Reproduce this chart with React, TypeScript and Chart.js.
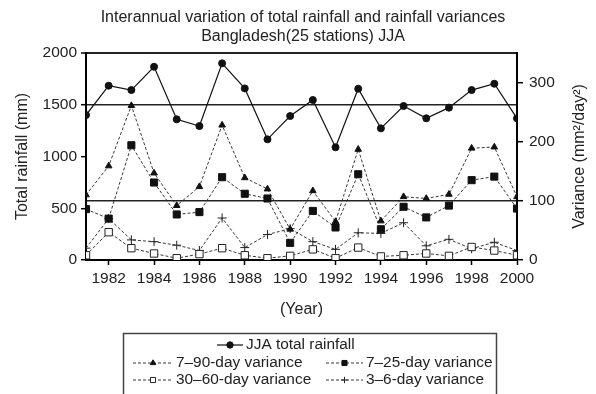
import React, { useEffect, useRef } from "react";
import { Chart, registerables } from "chart.js";
import { drawPoint } from "chart.js/helpers";

Chart.register(...registerables);

const years = [1981, 1982, 1983, 1984, 1985, 1986, 1987, 1988, 1989, 1990, 1991, 1992, 1993, 1994, 1995, 1996, 1997, 1998, 1999, 2000];
const yearTicks = [1982, 1984, 1986, 1988, 1990, 1992, 1994, 1996, 1998, 2000];
const rainfallTicks = [0, 500, 1000, 1500, 2000];
const varianceTicks = [0, 100, 200, 300];

const rainfallJJA = [1400, 1684, 1642, 1867, 1359, 1294, 1900, 1658, 1166, 1391, 1546, 1089, 1655, 1272, 1488, 1369, 1472, 1642, 1703, 1369];
const var7to90 = [110, 159, 261, 147, 92, 124, 228, 139, 120, 52, 117, 65, 187, 66, 107, 104, 111, 189, 191, 107];
const var7to25 = [86, 70, 194, 131, 77, 81, 140, 112, 104, 29, 83, 55, 145, 52, 90, 72, 92, 135, 141, 87];
const var30to60 = [8, 47, 20, 11, 3, 10, 20, 8, 3, 7, 18, 3, 21, 6, 8, 11, 7, 22, 16, 8];
const var3to6 = [20, 70, 34, 31, 25, 16, 71, 21, 43, 53, 31, 18, 46, 45, 63, 24, 35, 19, 30, 16];

const rainfallRefLine = 1500;
const varianceRefLine = 100;

const FONT = "'Liberation Sans', Arial, Helvetica, sans-serif";
const TEXT = "#222";

const toPts = (vals: number[]) => years.map((x, i) => ({ x, y: vals[i] }));

const legendLayout = [
  { x: 217, y: 345, w: 26, dashed: false },
  { x: 133, y: 363, w: 40, dashed: true },
  { x: 326, y: 363, w: 37, dashed: true },
  { x: 133, y: 380, w: 40, dashed: true },
  { x: 326, y: 380, w: 37, dashed: true },
];
const legendMarkerRadius = [3.2, 3.2, 3.6, 3.6, 3.2];

const extrasPlugin = {
  id: "extras",
  afterDraw(chart: any) {
    const ctx = chart.ctx as CanvasRenderingContext2D;
    const area = chart.chartArea;
    ctx.save();
    ctx.fillStyle = TEXT;
    ctx.font = `16px ${FONT}`;
    ctx.textAlign = "center";
    ctx.textBaseline = "middle";
    ctx.translate(580, (area.top + area.bottom) / 2);
    ctx.rotate(-Math.PI / 2);
    ctx.fillText("Variance (mm\u00B2/day\u00B2)", 0, 0);
    ctx.restore();

    ctx.save();
    ctx.strokeStyle = "#444";
    ctx.lineWidth = 1.5;
    ctx.strokeRect(123.5, 333.5, 373, 80);
    chart.data.datasets.forEach((ds: any, i: number) => {
      const L = legendLayout[i];
      ctx.save();
      ctx.strokeStyle = ds.borderColor;
      ctx.lineWidth = ds.borderWidth;
      ctx.setLineDash(L.dashed ? [3, 2] : []);
      ctx.beginPath();
      ctx.moveTo(L.x, L.y);
      ctx.lineTo(L.x + L.w, L.y);
      ctx.stroke();
      ctx.setLineDash([]);
      ctx.fillStyle = ds.pointBackgroundColor;
      ctx.strokeStyle = ds.pointBorderColor;
      ctx.lineWidth = ds.pointBorderWidth;
      drawPoint(ctx, { pointStyle: ds.pointStyle, rotation: 0, radius: legendMarkerRadius[i], borderWidth: ds.pointBorderWidth } as any, L.x + L.w / 2, L.y);
      ctx.fillStyle = TEXT;
      ctx.font = `15.4px ${FONT}`;
      ctx.textAlign = "left";
      ctx.textBaseline = "middle";
      ctx.fillText(ds.label, L.x + L.w + 3, L.y);
      ctx.restore();
    });
    ctx.restore();
  },
};

export default function App() {
  const ref = useRef<HTMLCanvasElement>(null);
  useEffect(() => {
    Chart.defaults.font.family = FONT;
    Chart.defaults.color = TEXT;
    const dashed = { borderDash: [3, 2], borderWidth: 0.9, borderColor: "#222", tension: 0, yAxisID: "yR" };
    const chart = new Chart(ref.current!, {
      type: "line",
      data: {
        datasets: [
          {
            label: "JJA total rainfall",
            data: toPts(rainfallJJA),
            yAxisID: "yL",
            borderColor: "#111",
            borderWidth: 1.2,
            pointStyle: "circle",
            pointRadius: 3.5,
            pointBackgroundColor: "#111",
            pointBorderColor: "#111",
            pointBorderWidth: 1,
            tension: 0,
          },
          {
            label: "7\u201390-day variance",
            data: toPts(var7to90),
            ...dashed,
            pointStyle: "triangle",
            pointRadius: 3.8,
            pointBackgroundColor: "#111",
            pointBorderColor: "#111",
            pointBorderWidth: 1,
          },
          {
            label: "7\u201325-day variance",
            data: toPts(var7to25),
            ...dashed,
            pointStyle: "rect",
            pointRadius: 5,
            pointBackgroundColor: "#111",
            pointBorderColor: "#111",
            pointBorderWidth: 1,
          },
          {
            label: "30\u201360-day variance",
            data: toPts(var30to60),
            ...dashed,
            pointStyle: "rect",
            pointRadius: 5.2,
            pointBackgroundColor: "#fff",
            pointBorderColor: "#222",
            pointBorderWidth: 1,
          },
          {
            label: "3\u20136-day variance",
            data: toPts(var3to6),
            ...dashed,
            pointStyle: "cross",
            pointRadius: 4.5,
            pointBackgroundColor: "#111",
            pointBorderColor: "#222",
            pointBorderWidth: 1,
          },
        ] as any,
      },
      options: {
        animation: false,
        responsive: false,
        maintainAspectRatio: false,
        layout: { padding: { left: 10, right: 0, top: 0, bottom: 72 } },
        plugins: {
          legend: { display: false },
          tooltip: { enabled: false },
          title: {
            display: true,
            text: ["Interannual variation of total rainfall and rainfall variances", "Bangladesh(25 stations) JJA"],
            color: TEXT,
            font: { size: 16, weight: "normal", family: FONT, lineHeight: 1.15 },
            padding: { top: 8.5, bottom: 7.7 },
          },
        },
        scales: {
          x: {
            type: "linear",
            min: 1981,
            max: 2000,
            afterBuildTicks: (s: any) => {
              s.ticks = yearTicks.map((v) => ({ value: v }));
            },
            afterFit: (s: any) => {
              s.height = 62;
            },
            ticks: { callback: (v: any) => String(v), font: { size: 15.5 }, color: TEXT, padding: 4, maxRotation: 0, autoSkip: false },
            grid: { drawOnChartArea: false, drawTicks: true, tickLength: 5, tickColor: "#000", tickWidth: 1.5 },
            border: { display: true, color: "#000", width: 2 },
            title: { display: true, text: "(Year)", color: TEXT, font: { size: 16, lineHeight: 1.2 }, padding: { top: 0, bottom: 3 } },
          },
          yL: {
            type: "linear",
            position: "left",
            min: 0,
            max: 2000,
            afterBuildTicks: (s: any) => {
              s.ticks = rainfallTicks.map((v) => ({ value: v }));
            },
            afterFit: (s: any) => {
              s.width = 76;
            },
            ticks: { callback: (v: any) => String(v), font: { size: 15.5 }, color: TEXT, padding: 4 },
            grid: {
              drawOnChartArea: true,
              color: (c: any) => (c.tick && (c.tick.value === rainfallRefLine || c.tick.value === 2000) ? "#222" : "rgba(0,0,0,0)"),
              lineWidth: (c: any) => (c.tick && c.tick.value === 2000 ? 2 : 1.4),
              tickLength: 5,
              tickColor: "#000",
              tickWidth: 1.5,
            },
            border: { display: true, color: "#000", width: 2 },
            title: { display: true, text: "Total rainfall (mm)", color: TEXT, font: { size: 16, lineHeight: 1.2 }, padding: { top: 3, bottom: 0 } },
          },
          yR: {
            type: "linear",
            position: "right",
            min: 0,
            max: 350,
            afterBuildTicks: (s: any) => {
              s.ticks = varianceTicks.map((v) => ({ value: v }));
            },
            afterFit: (s: any) => {
              s.width = 79;
            },
            ticks: { callback: (v: any) => String(v), font: { size: 15.5 }, color: TEXT, padding: 6 },
            grid: {
              drawOnChartArea: true,
              color: (c: any) => (c.tick && c.tick.value === varianceRefLine ? "#222" : "rgba(0,0,0,0)"),
              lineWidth: 1.4,
              tickLength: 6,
              tickColor: "#000",
              tickWidth: 1.5,
            },
            border: { display: true, color: "#000", width: 2 },
          },
        },
      } as any,
      plugins: [extrasPlugin],
    });
    return () => chart.destroy();
  }, []);
  return (
    <div style={{ position: "fixed", left: 0, top: 0, width: 596, height: 394, background: "#fff" }}>
      <canvas ref={ref} width={596} height={394} style={{ display: "block", width: 596, height: 394 }} />
    </div>
  );
}
